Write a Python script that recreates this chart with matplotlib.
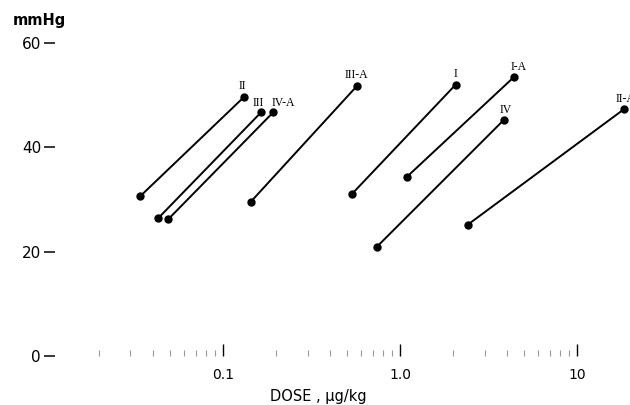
import matplotlib.pyplot as plt
from matplotlib.ticker import FixedLocator, LogLocator, NullFormatter

# dose-response lines, low and high dose for each compound
labels = ['II', 'III', 'IV-A', 'III-A', 'I', 'I-A', 'IV', 'II-A']
dose_low = [0.034, 0.043, 0.049, 0.143, 0.533, 1.09, 0.738, 2.42]
dose_high = [0.131, 0.164, 0.192, 0.569, 2.06, 4.41, 3.87, 18.4]
mmhg_low = [30.6, 26.4, 26.2, 29.5, 31.0, 34.3, 20.9, 25.2]
mmhg_high = [49.6, 46.7, 46.7, 51.7, 52.0, 53.5, 45.3, 47.3]

y_ticks = [0, 20, 40, 60]
x_ticks = [0.1, 1.0, 10]
x_tick_labels = ['0.1', '1.0', '10']

fig = plt.figure(figsize=(6.3, 4.05), dpi=100)
ax = fig.add_axes([0.0873, 0.121, 0.9127, 0.773])

for i in range(len(labels)):
    ax.plot([dose_low[i], dose_high[i]], [mmhg_low[i], mmhg_high[i]],
            color='black', lw=1.4, marker='o', ms=5, clip_on=False)

# label offsets in points, tweaked by eye
offsets = {'II': (-1, 8), 'III': (-2, 7), 'IV-A': (7, 7), 'I-A': (3, 7),
           'IV': (1, 7), 'II-A': (-6, 7)}
for i, lab in enumerate(labels):
    dx, dy = offsets.get(lab, (0, 8))
    ha = 'left' if lab == 'II-A' else 'center'
    ax.annotate(lab, (dose_high[i], mmhg_high[i]), xytext=(dx, dy),
                textcoords='offset points', ha=ha, va='center',
                fontsize=8.5, family='Liberation Serif', annotation_clip=False)

ax.set_xscale('log')
ax.set_xlim(0.01124, 19.9)
ax.set_ylim(0, 60)

for s in ax.spines.values():
    s.set_visible(False)

ax.yaxis.set_major_locator(FixedLocator(y_ticks))
ax.tick_params(axis='y', direction='out', length=8, width=1.1, pad=2, labelsize=11)

ax.xaxis.set_major_locator(FixedLocator(x_ticks))
ax.set_xticklabels(x_tick_labels)
ax.xaxis.set_minor_locator(LogLocator(base=10, subs=range(2, 10)))
ax.xaxis.set_minor_formatter(NullFormatter())
ax.tick_params(axis='x', which='major', direction='in', length=9, width=1,
               pad=9, labelsize=10)
ax.tick_params(axis='x', which='minor', direction='in', length=4, width=0.8,
               color='#999999')

fig.text(13 / 630, 1 - 20 / 405, 'mmHg', fontsize=10.5, fontweight='bold',
         va='center', ha='left')
fig.text(318 / 630, 1 - 396 / 405, 'DOSE , \u00b5g/kg', fontsize=10.5,
         va='center', ha='center')

fig.savefig('out.png', dpi=100)
